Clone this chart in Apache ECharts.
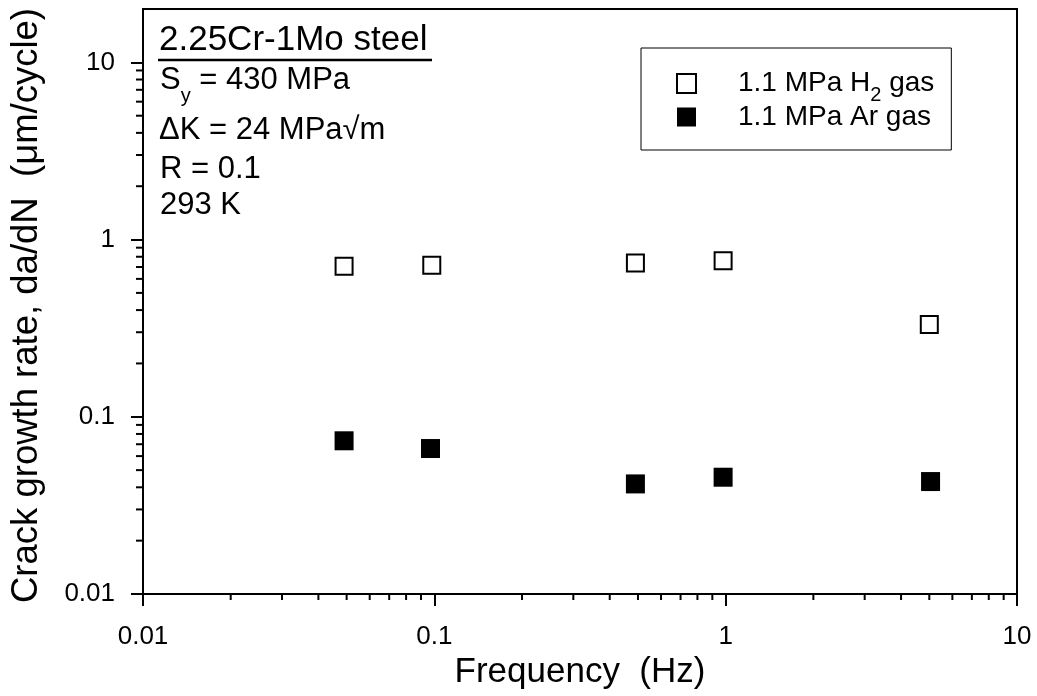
<!DOCTYPE html>
<html>
<head>
<meta charset="utf-8">
<script src="https://cdn.jsdelivr.net/npm/echarts@6/dist/echarts.min.js"></script>
<style>
html,body{margin:0;padding:0;background:#fff;}
#chart{width:1037px;height:696px;}
</style>
</head>
<body>
<div id="chart"></div>
<script>
// ---- data ----
const seriesNames = ['1.1 MPa H2 gas', '1.1 MPa Ar gas'];
const freqH2 = [0.049, 0.098, 0.49, 0.98, 5.0];
const rateH2 = [0.707, 0.716, 0.738, 0.760, 0.332];
const freqAr = [0.049, 0.097, 0.49, 0.98, 5.05];
const rateAr = [0.0732, 0.0662, 0.0418, 0.0456, 0.0431];

const xMajorTicks = [0.01, 0.1, 1, 10];
const yMajorTicks = [0.01, 0.1, 1, 10];
const xMinorTicks = [0.02, 0.03, 0.04, 0.05, 0.06, 0.07, 0.08, 0.09,
                     0.2, 0.3, 0.4, 0.5, 0.6, 0.7, 0.8, 0.9,
                     2, 3, 4, 5, 6, 7, 8, 9];
const yMinorTicks = [0.02, 0.03, 0.04, 0.05, 0.06, 0.07, 0.08, 0.09,
                     0.2, 0.3, 0.4, 0.5, 0.6, 0.7, 0.8, 0.9,
                     2, 3, 4, 5, 6, 7, 8, 9];
const xMin = 0.01, xMax = 10, yMin = 0.01, yMax = 20;

const annoTitle = '2.25Cr-1Mo steel';
const annoLines = ['ΔK = 24 MPa√m', 'R = 0.1', '293 K'];

const FONT = '"Liberation Sans", Arial, Helvetica, sans-serif';

const chart = echarts.init(document.getElementById('chart'), null, {renderer: 'canvas'});

function pair(xs, ys) { return xs.map((x, i) => [x, ys[i]]); }

const option = {
  animation: false,
  backgroundColor: '#fff',
  textStyle: {fontFamily: FONT, color: '#000'},
  grid: {left: 141, right: 20, top: 9, bottom: 102, show: true, borderColor: '#000', borderWidth: 2, backgroundColor: 'transparent'},
  xAxis: {
    type: 'log', logBase: 10, min: xMin, max: xMax,
    name: 'Frequency  (Hz)', nameLocation: 'middle', nameGap: 60,
    nameTextStyle: {fontSize: 35, color: '#000', fontFamily: FONT},
    axisLine: {show: true, lineStyle: {color: '#000', width: 2}},
    axisTick: {show: true, inside: false, length: 12, lineStyle: {color: '#000', width: 2}, customValues: xMajorTicks},
    axisLabel: {show: true, fontSize: 26, color: '#000', fontFamily: FONT, margin: 30, customValues: xMajorTicks,
      formatter: v => String(v)},
    splitLine: {show: false},
    minorTick: {show: false}
  },
  yAxis: {
    type: 'log', logBase: 10, min: yMin, max: yMax,
    name: 'Crack growth rate, da/dN  (μm/cycle)', nameLocation: 'middle', nameGap: 98,
    nameTextStyle: {fontSize: 36.5, color: '#000', fontFamily: FONT, padding: [0, 0, 0, -8]},
    axisLine: {show: true, lineStyle: {color: '#000', width: 2}},
    axisTick: {show: true, inside: false, length: 12, lineStyle: {color: '#000', width: 2}, customValues: yMajorTicks},
    axisLabel: {show: true, fontSize: 26, color: '#000', fontFamily: FONT, margin: 28, customValues: yMajorTicks,
      formatter: v => String(v)},
    splitLine: {show: false},
    minorTick: {show: false}
  },
  legend: {
    data: seriesNames,
    orient: 'vertical',
    left: 641, top: 48,
    padding: [14, 17, 12, 35],
    borderColor: '#000', borderWidth: 1,
    backgroundColor: '#fff',
    itemWidth: 19, itemHeight: 19, itemGap: -9,
    selectedMode: false,
    formatter: name => name.replace('H2', 'H{sub|2}'),
    textStyle: {
      fontSize: 28, color: '#000', fontFamily: FONT, lineHeight: 42, padding: [0, 0, 0, 37],
      rich: {
        sub: {fontSize: 20, lineHeight: 19, padding: [23, 0, 0, 0], color: '#000', fontFamily: FONT}
      }
    }
  },
  graphic: [
    {type: 'text', x: 159, y: 40.8, silent: true,
     style: {text: annoTitle, fontSize: 35, fontFamily: FONT, fill: '#000', align: 'left', verticalAlign: 'middle'}},
    {type: 'line', silent: true, shape: {x1: 158, y1: 60, x2: 432, y2: 60}, style: {stroke: '#000', lineWidth: 2.5}},
    {type: 'text', x: 160, y: 62.5, silent: true,
     style: {
       text: '{m|S}{s|y}{m| = 430 MPa}', verticalAlign: 'top', align: 'left',
       rich: {
         m: {fontSize: 31, lineHeight: 36, fontFamily: FONT, fill: '#000'},
         s: {fontSize: 20, lineHeight: 20, padding: [31, 0, 0, 0], fontFamily: FONT, fill: '#000'}
       }
     }},
    {type: 'text', x: 159, y: 130, silent: true,
     style: {text: annoLines[0], fontSize: 31, fontFamily: FONT, fill: '#000', align: 'left', verticalAlign: 'middle'}},
    {type: 'text', x: 160, y: 169, silent: true,
     style: {text: annoLines[1], fontSize: 31, fontFamily: FONT, fill: '#000', align: 'left', verticalAlign: 'middle'}},
    {type: 'text', x: 160, y: 205.8, silent: true,
     style: {text: annoLines[2], fontSize: 31, fontFamily: FONT, fill: '#000', align: 'left', verticalAlign: 'middle'}}
  ],
  series: [
    {
      name: seriesNames[0], type: 'scatter', symbol: 'rect', symbolSize: 17,
      itemStyle: {color: '#fff', borderColor: '#000', borderWidth: 2, opacity: 1},
      data: pair(freqH2, rateH2), z: 5
    },
    {
      name: seriesNames[1], type: 'scatter', symbol: 'rect', symbolSize: 19,
      itemStyle: {color: '#000', borderColor: '#000', borderWidth: 0, opacity: 1},
      data: pair(freqAr, rateAr), z: 5
    },
    {
      name: 'xMinor', type: 'custom', silent: true, clip: false,
      data: xMinorTicks.map(v => [v, yMin]),
      encode: {x: 0, y: 1},
      renderItem: function (params, api) {
        const p = api.coord([api.value(0), yMin]);
        return {type: 'line', shape: {x1: p[0], y1: p[1], x2: p[0], y2: p[1] + 6},
                style: {stroke: '#000', lineWidth: 2}};
      }
    },
    {
      name: 'yMinor', type: 'custom', silent: true, clip: false,
      data: yMinorTicks.map(v => [xMin, v]),
      encode: {x: 0, y: 1},
      renderItem: function (params, api) {
        const p = api.coord([xMin, api.value(1)]);
        return {type: 'line', shape: {x1: p[0], y1: p[1], x2: p[0] - 7, y2: p[1]},
                style: {stroke: '#000', lineWidth: 2}};
      }
    }
  ]
};
chart.setOption(option);
</script>
</body>
</html>
